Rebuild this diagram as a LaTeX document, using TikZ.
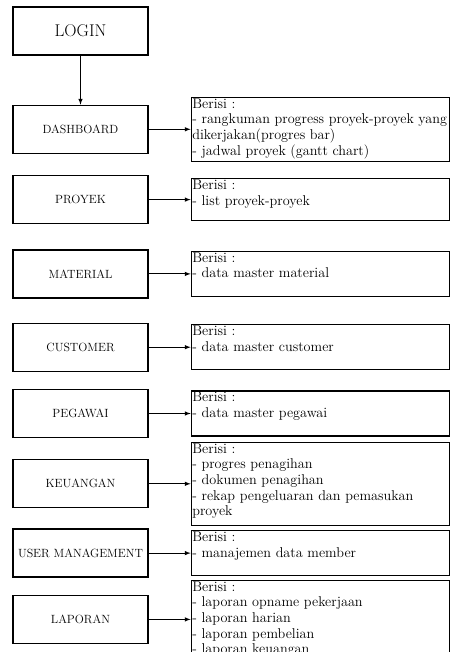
\documentclass[tikz,border=0pt]{standalone}
\usetikzlibrary{arrows, positioning}

\begin{document}
\begin{tikzpicture}[
    x=1pt, y=1pt,
    node distance=42pt,
    menu/.style={rectangle, draw, line width=1.3pt, minimum width=135pt, minimum height=48pt, inner sep=0pt, font=\fontsize{11.9}{14}\selectfont},
    isi/.style={rectangle, draw, line width=1.3pt, minimum width=258pt, inner sep=0pt},
    isitext/.style={anchor=north west, inner sep=1.5pt, align=left, font=\fontsize{14.2}{15.7}\selectfont},
    arrow/.style={->, >=latex, line width=1pt}
]
    \useasboundingbox (0,0) rectangle (449,-652);

    % Login
    \node[menu] (login) at (80.5,-31) {\fontsize{17}{20}\selectfont LOGIN};

    % Menu boxes
    \node[menu, below=49pt of login] (dashboard) {DASHBOARD};
    \node[menu, below=21pt of dashboard] (proyek) {PROYEK};
    \node[menu, below=25pt of proyek] (material) {MATERIAL};
    \node[menu, below=24pt of material] (customer) {CUSTOMER};
    \node[menu, below=17pt of customer] (pegawai) {PEGAWAI};
    \node[menu, below=21pt of pegawai] (keuangan) {KEUANGAN};
    \node[menu, below=20pt of keuangan] (user) {USER MANAGEMENT};
    \node[menu, below=17pt of user] (laporan) {LAPORAN};

    % Isi boxes
    \node[isi, minimum height=64pt, right=42pt of dashboard] (dashboard-isi) {};
    \node[isi, minimum height=42pt, right=42pt of proyek] (proyek-isi) {};
    \node[isi, minimum height=45pt, right=42pt of material] (material-isi) {};
    \node[isi, minimum height=45pt, right=42pt of customer] (customer-isi) {};
    \node[isi, minimum height=45pt, right=42pt of pegawai] (pegawai-isi) {};
    \node[isi, minimum height=83pt, right=42pt of keuangan] (keuangan-isi) {};
    \node[isi, minimum height=45pt, right=42pt of user] (user-isi) {};
    \node[isi, minimum height=78pt, right=42pt of laporan] (laporan-isi) {};

    % Isi texts
    \node[isitext] (dashboard-teks) at (dashboard-isi.north west) {Berisi :\\- rangkuman progress proyek-proyek yang\\dikerjakan(progres bar)\\- jadwal proyek (gantt chart)};
    \node[isitext] (proyek-teks) at (proyek-isi.north west) {Berisi :\\- list proyek-proyek};
    \node[isitext] (material-teks) at (material-isi.north west) {Berisi :\\- data master material};
    \node[isitext] (customer-teks) at (customer-isi.north west) {Berisi :\\- data master customer};
    \node[isitext] (pegawai-teks) at (pegawai-isi.north west) {Berisi :\\- data master pegawai};
    \node[isitext] (keuangan-teks) at (keuangan-isi.north west) {Berisi :\\- progres penagihan\\- dokumen penagihan\\- rekap pengeluaran dan pemasukan\\proyek};
    \node[isitext] (user-teks) at (user-isi.north west) {Berisi :\\- manajemen data member};
    \node[isitext] (laporan-teks) at (laporan-isi.north west) {Berisi :\\- laporan opname pekerjaan\\- laporan harian\\- laporan pembelian\\- laporan keuangan};

    % Arrows
    \draw[arrow] (login) -- (dashboard);
    \draw[arrow] (dashboard) -- (dashboard-isi);
    \draw[arrow] (proyek) -- (proyek-isi);
    \draw[arrow] (material) -- (material-isi);
    \draw[arrow] (customer) -- (customer-isi);
    \draw[arrow] (pegawai) -- (pegawai-isi);
    \draw[arrow] (keuangan) -- (keuangan-isi);
    \draw[arrow] (user) -- (user-isi);
    \draw[arrow] (laporan) -- (laporan-isi);

\end{tikzpicture}
\end{document}
